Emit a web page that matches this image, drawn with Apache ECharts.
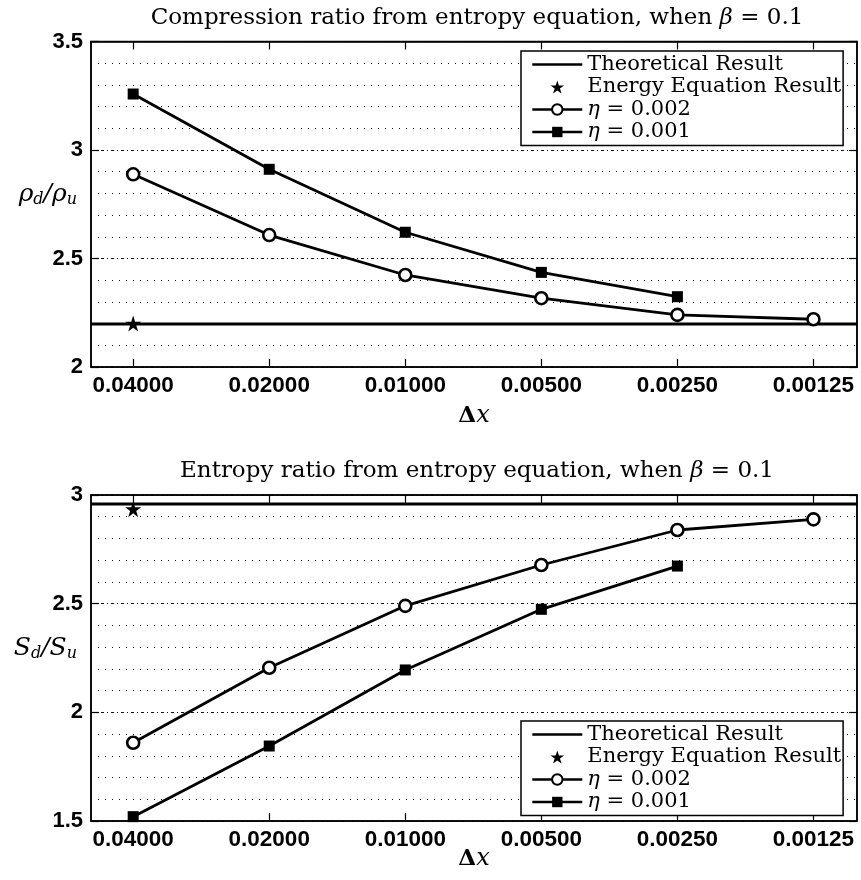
<!DOCTYPE html>
<html>
<head>
<meta charset="utf-8">
<script src="https://cdn.jsdelivr.net/npm/echarts@6/dist/echarts.min.js"></script>
<style>html,body{margin:0;padding:0;background:#fff}#c{width:861px;height:880px}</style>
</head>
<body>
<div id="c"></div>
<script>
// ---- data ----
const dxLabels = ['0.04000', '0.02000', '0.01000', '0.00500', '0.00250', '0.00125'];
const compEta002 = [2.888, 2.608, 2.424, 2.317, 2.240, 2.220];
const compEta001 = [3.258, 2.911, 2.621, 2.436, 2.324];
const compTheory = 2.198;
const compEnergy = [2.2];
const entEta002 = [1.860, 2.205, 2.490, 2.678, 2.839, 2.888];
const entEta001 = [1.520, 1.845, 2.195, 2.474, 2.673];
const entTheory = 2.959;
const entEnergy = [2.935];
const compYTicks = [2, 2.5, 3, 3.5];
const entYTicks = [1.5, 2, 2.5, 3];

const X_MIN = -0.31, X_MAX = 5.32;
const idx = dxLabels.map((_, i) => i);
const serif = '"DejaVu Serif", "Liberation Serif", serif';
const sans = '"Liberation Sans", Arial, sans-serif';
const STAR = 'path://M50,0 L61.8,36.2 L100,36.2 L69.1,58.8 L80.9,95.1 L50,72.7 L19.1,95.1 L30.9,58.8 L0,36.2 L38.2,36.2 Z';

const chart = echarts.init(document.getElementById('c'), null, {renderer: 'canvas'});

function xAxes(grid, nameGap) {
  return [{
    type: 'value', gridIndex: grid, min: X_MIN, max: X_MAX, position: 'bottom',
    name: '{d|Δ}{i|x}', nameLocation: 'middle', nameGap: nameGap, nameMoveOverlap: false,
    nameTextStyle: {rich: {d: {fontFamily: serif, fontWeight: 'bold', fontSize: 23, color: '#000'}, i: {fontFamily: serif, fontStyle: 'italic', fontSize: 24, color: '#000'}}},
    axisLine: {show: true, onZero: false, lineStyle: {color: '#000', width: 1.5}},
    axisTick: {show: true, inside: true, length: 8, customValues: idx, lineStyle: {color: '#000', width: 1.2}},
    axisLabel: {customValues: idx, formatter: v => dxLabels[Math.round(v)], fontFamily: sans, fontWeight: 'bold', fontSize: 22.5, color: '#000', margin: 7},
    splitLine: {show: false}
  }, {
    type: 'value', gridIndex: grid, min: X_MIN, max: X_MAX, position: 'top',
    axisLine: {show: true, onZero: false, lineStyle: {color: '#000', width: 1.5}},
    axisTick: {show: true, inside: true, length: 8, customValues: idx, lineStyle: {color: '#000', width: 1.2}},
    axisLabel: {show: false},
    splitLine: {show: false}
  }];
}
function yAxes(grid, min, max, nameRich) {
  return [{
    type: 'value', gridIndex: grid, min: min, max: max, interval: 0.5, position: 'left',
    name: nameRich, nameLocation: 'middle', nameGap: 14, nameRotate: 0, nameMoveOverlap: false,
    nameTextStyle: {padding: [0, 0, 20, 0], rich: {
      i: {fontFamily: serif, fontStyle: 'italic', fontSize: 25, color: '#000'},
      s: {fontFamily: serif, fontStyle: 'italic', fontSize: 16, color: '#000', verticalAlign: 'bottom', padding: [12, 0, 0, 0]}
    }},
    axisLine: {show: true, onZero: false, lineStyle: {color: '#000', width: 1.5}},
    axisTick: {show: true, inside: true, length: 8, lineStyle: {color: '#000', width: 1.2}},
    axisLabel: {fontFamily: sans, fontWeight: 'bold', fontSize: 22, color: '#000', margin: 8},
    splitLine: {show: true, lineStyle: {color: '#111', width: 1, type: [3, 3, 1, 3]}},
    minorTick: {show: false, splitNumber: 5},
    minorSplitLine: {show: true, lineStyle: {color: '#111', width: 1, type: [1, 6]}}
  }, {
    type: 'value', gridIndex: grid, min: min, max: max, interval: 0.5, position: 'right',
    axisLine: {show: true, onZero: false, lineStyle: {color: '#000', width: 1.5}},
    axisTick: {show: true, inside: true, length: 8, lineStyle: {color: '#000', width: 1.2}},
    axisLabel: {show: false},
    splitLine: {show: false}
  }];
}

function seriesFor(grid, theory, energy, eta002, eta001) {
  const xi = grid * 2, yi = grid * 2;
  return [{
    name: 'Theoretical Result', type: 'line', xAxisIndex: xi, yAxisIndex: yi,
    data: [[X_MIN, theory], [X_MAX, theory]], symbol: 'none',
    lineStyle: {color: '#000', width: 3}, itemStyle: {color: '#000'}, z: 2
  }, {
    name: 'Energy Equation Result', type: 'scatter', xAxisIndex: xi, yAxisIndex: yi,
    data: energy.map((v, i) => [i, v]), symbol: STAR, symbolSize: 16,
    itemStyle: {color: '#000', opacity: 1}, z: 4
  }, {
    name: 'eta002', type: 'line', xAxisIndex: xi, yAxisIndex: yi,
    data: eta002.map((v, i) => [i, v]), symbol: 'circle', symbolSize: 12, showAllSymbol: true,
    lineStyle: {color: '#000', width: 2.8}, itemStyle: {color: '#fff', borderColor: '#000', borderWidth: 2.6}, z: 3
  }, {
    name: 'eta001', type: 'line', xAxisIndex: xi, yAxisIndex: yi,
    data: eta001.map((v, i) => [i, v]), symbol: 'rect', symbolSize: 11, showAllSymbol: true,
    lineStyle: {color: '#000', width: 2.8}, itemStyle: {color: '#000'}, z: 3
  }];
}

function legendAt(top) {
  return {
    orient: 'vertical', left: 521, top: top,
    data: [
      {name: 'Theoretical Result', icon: 'path://M0,9.5 L100,9.5 L100,14.5 L0,14.5 Z M0,0 L0.01,0 L0.01,0.01 Z M0,24 L0.01,24 L0.01,23.99 Z'},
      {name: 'Energy Equation Result'},
      {name: 'eta002'},
      {name: 'eta001'}
    ],
    backgroundColor: '#fff', borderColor: '#000', borderWidth: 1.5, borderRadius: 0,
    padding: [3, 2, 3, 10], itemGap: 1.5, itemWidth: 50, itemHeight: 13,
    selectedMode: false,
    lineStyle: {width: 2.6},
    formatter: function (n) {
      if (n === 'eta002') return '{i|η} = 0.002';
      if (n === 'eta001') return '{i|η} = 0.001';
      return n;
    },
    textStyle: {fontFamily: serif, fontSize: 21, color: '#000', lineHeight: 20, padding: [0, 0, 0, 0],
      rich: {i: {fontFamily: serif, fontStyle: 'italic', fontSize: 21, color: '#000'}}}
  };
}

const option = {
  animation: false,
  backgroundColor: '#fff',
  title: [{
    text: 'Compression ratio from entropy equation, when {i|β} = 0.1', left: 472, textAlign: 'center', top: 2,
    textStyle: {fontFamily: serif, fontWeight: 'normal', fontSize: 23, color: '#000',
      rich: {i: {fontFamily: serif, fontStyle: 'italic', fontSize: 23, color: '#000'}}}
  }, {
    text: 'Entropy ratio from entropy equation, when {i|β} = 0.1', left: 472, textAlign: 'center', top: 455,
    textStyle: {fontFamily: serif, fontWeight: 'normal', fontSize: 23, color: '#000',
      rich: {i: {fontFamily: serif, fontStyle: 'italic', fontSize: 23, color: '#000'}}}
  }],
  grid: [
    {left: 91, right: 4, top: 41.5, height: 325.5, outerBoundsMode: 'none', containLabel: false, show: true, borderColor: '#000', borderWidth: 1.5, backgroundColor: 'transparent'},
    {left: 91, right: 4, top: 495, height: 326, outerBoundsMode: 'none', containLabel: false, show: true, borderColor: '#000', borderWidth: 1.5, backgroundColor: 'transparent'}
  ],
  xAxis: [...xAxes(0, 37), ...xAxes(1, 26)],
  yAxis: [...yAxes(0, compYTicks[0], compYTicks[compYTicks.length - 1], '{i|ρ}{s|d}{i|/ρ}{s|u}'),
          ...yAxes(1, entYTicks[0], entYTicks[entYTicks.length - 1], '{i|S}{s|d}{i|/S}{s|u}')],
  legend: [legendAt(51), legendAt(721)],
  series: [...seriesFor(0, compTheory, compEnergy, compEta002, compEta001),
           ...seriesFor(1, entTheory, entEnergy, entEta002, entEta001)]
};
chart.setOption(option);
</script>
</body>
</html>
